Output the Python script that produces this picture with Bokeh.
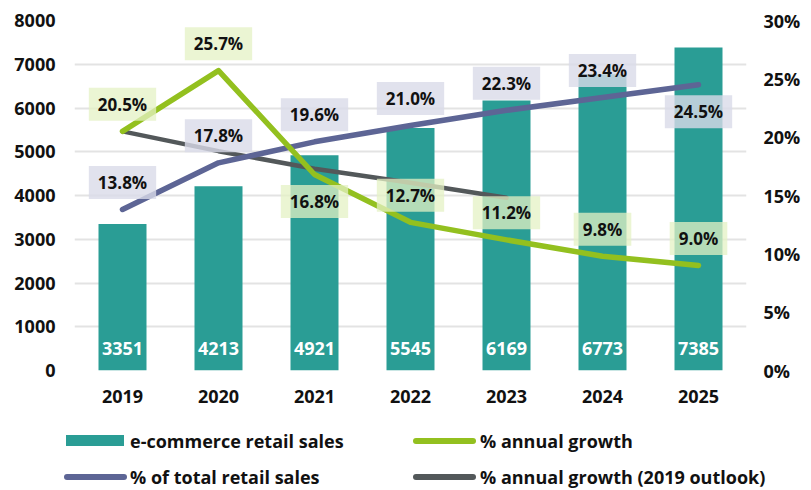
from bokeh.plotting import figure
from bokeh.layouts import column
from bokeh.models import Range1d, LinearAxis, FixedTicker, PrintfTickFormatter, Div
from bokeh.core.properties import value
from bokeh.embed import file_html
from bokeh.resources import INLINE

# ---- data ----
years = ["2019", "2020", "2021", "2022", "2023", "2024", "2025"]
sales = [3351, 4213, 4921, 5545, 6169, 6773, 7385]
share_total = [13.8, 17.8, 19.6, 21.0, 22.3, 23.4, 24.5]
growth = [20.5, 25.7, 16.8, 12.7, 11.2, 9.8, 9.0]
outlook_years = ["2019", "2020", "2021", "2022", "2023"]
outlook_growth = [20.5, 18.8, 17.3, 16.1, 14.8]
left_ticks = [0, 1000, 2000, 3000, 4000, 5000, 6000, 7000, 8000]
right_ticks = [0, 5, 10, 15, 20, 25, 30]
legend_labels = ["e-commerce retail sales", "% annual growth",
                 "% of total retail sales", "% annual growth (2019 outlook)"]
# label placement: -1 above the point, +1 below it
growth_side = [-1, -1, 1, -1, -1, -1, -1]
share_side = [-1, -1, -1, -1, -1, -1, 1]

FONT = "Open Sans"
TEAL = "#2a9d95"
GREEN = "#93c01f"
PURPLE = "#5d6595"
GRAY = "#53585a"
INK = "#111111"

p = figure(x_range=years, y_range=Range1d(0, 8000), frame_width=672, frame_height=350,
           output_backend="svg", toolbar_location=None,
           min_border_left=74, min_border_right=65, min_border_top=20, min_border_bottom=40)
p.extra_y_ranges = {"pct": Range1d(0, 30)}
p.outline_line_color = None
p.xgrid.grid_line_color = None
p.ygrid.grid_line_color = "#e3e3e3"
p.ygrid.grid_line_width = 2

def style_axis(ax, standoff):
    ax.axis_line_color = None
    ax.major_tick_line_color = None
    ax.minor_tick_line_color = None
    ax.major_tick_out = 0
    ax.major_tick_in = 0
    ax.minor_tick_out = 0
    ax.major_label_text_font = FONT
    ax.major_label_text_font_style = "bold"
    ax.major_label_text_font_size = "18px"
    ax.major_label_text_color = INK
    ax.major_label_standoff = standoff

p.yaxis.ticker = FixedTicker(ticks=left_ticks)
style_axis(p.yaxis[0], 19)
style_axis(p.xaxis[0], 19)

raxis = LinearAxis(y_range_name="pct", ticker=FixedTicker(ticks=right_ticks),
                   formatter=PrintfTickFormatter(format="%d%%"))
style_axis(raxis, 17)
p.add_layout(raxis, "right")

p.vbar(x=years, top=sales, width=0.5, fill_color=TEAL, line_color=None)
p.line(x=outlook_years, y=outlook_growth, y_range_name="pct", line_color=GRAY,
       line_width=4.5, line_cap="round", line_join="round")
p.line(x=years, y=share_total, y_range_name="pct", line_color=PURPLE,
       line_width=5.5, line_cap="round", line_join="round")
p.line(x=years, y=growth, y_range_name="pct", line_color=GREEN,
       line_width=5.5, line_cap="round", line_join="round")

# bar values inside the bars
p.text(x=years, y=[0] * len(years), text=[str(v) for v in sales], y_offset=-22,
       text_align="center", text_baseline="middle", text_color="white",
       text_font=value(FONT), text_font_style="bold", text_font_size="18px")

pad = dict(left=9, right=9, top=5, bottom=5)
p.text(x=years, y=share_total, text=[f"{v:.1f}%" for v in share_total], y_range_name="pct",
       y_offset=[27 * s for s in share_side], text_align="center", text_baseline="middle",
       text_color=INK, text_font=value(FONT), text_font_style="bold", text_font_size="17px",
       background_fill_color="#d9dbe9", background_fill_alpha=0.8, padding=pad)
p.text(x=years, y=growth, text=[f"{v:.1f}%" for v in growth], y_range_name="pct",
       y_offset=[27 * s for s in growth_side], text_align="center", text_baseline="middle",
       text_color=INK, text_font=value(FONT), text_font_style="bold", text_font_size="17px",
       background_fill_color="#e4f1c4", background_fill_alpha=0.75, padding=pad)

# ---- legend strip below the chart ----
def swatch(left, top, w, h, color, radius):
    return (f'<span style="position:absolute;left:{left}px;top:{top}px;width:{w}px;'
            f'height:{h}px;background:{color};border-radius:{radius}px;"></span>')

def label(left, top, txt):
    return (f'<span style="position:absolute;left:{left}px;top:{top}px;height:20px;'
            f'line-height:20px;white-space:nowrap;font-family:\'{FONT}\';font-weight:bold;'
            f'font-size:18px;color:{INK};">{txt}</span>')

html = ('<div style="position:relative;width:811px;height:80px;margin:0;padding:0;">'
        + swatch(66, 25, 58, 11, TEAL, 0) + label(130, 21, legend_labels[0])
        + swatch(413, 28, 63, 6, GREEN, 3) + label(480, 21, legend_labels[1])
        + swatch(64, 64, 63, 6, PURPLE, 3) + label(130, 57, legend_labels[2])
        + swatch(413, 64, 63, 6, GRAY, 3) + label(480, 57, legend_labels[3])
        + '</div>')
leg = Div(text=html, width=811, height=80, margin=0)

layout = column(p, leg, spacing=0)
open("out.html", "w").write(file_html(layout, INLINE))
